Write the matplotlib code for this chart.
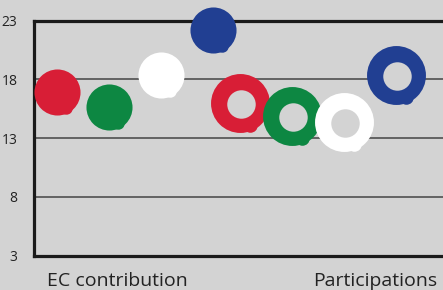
import matplotlib
matplotlib.use("Agg")
import matplotlib.pyplot as plt

# data
categories = ["EC contribution", "Participations"]
series_colors = ["#d81e36", "#0d8742", "#ffffff", "#213f92"]
ec_values = [16.9, 15.6, 18.4, 22.2]
part_values = [16.0, 14.9, 14.4, 18.4]
y_ticks = [3, 8, 13, 18, 23]

bg = "#d3d3d3"
fig = plt.figure(figsize=(4.43, 2.90), dpi=100, facecolor=bg)
ax = fig.add_axes([34/443, 1-255.5/290, 1-34/443, (255.5-20.5)/290])
ax.set_facecolor(bg)
ax.set_xlim(0, 409/52.5)
ax.set_ylim(3, 23)

for y in [8, 13, 18]:
    ax.axhline(y, color="#5a5a5a", lw=1.3, zorder=1)

group_start = [0.44, 3.92]
spacing = 0.99
px_x = 1/52.5
px_y = 20/235

# filled blobs
for i, (v, c) in enumerate(zip(ec_values, series_colors)):
    x = group_start[0] + i*spacing
    ax.scatter([x + 9*px_x], [v - 16*px_y], s=80, color=c, lw=0, zorder=3, clip_on=False)
    ax.scatter([x], [v], s=1100, color=c, lw=0, zorder=3, clip_on=False)

# ring blobs
for i, (v, c) in enumerate(zip(part_values, series_colors)):
    x = group_start[1] + i*spacing
    ax.scatter([x + 10*px_x], [v - 22*px_y], s=110, color=c, lw=0, zorder=3, clip_on=False)
    ax.scatter([x], [v], s=1800, color=c, lw=0, zorder=3, clip_on=False)
    ax.scatter([x + 1*px_x], [v - 1*px_y], s=420, color=bg, lw=0, zorder=4, clip_on=False)

for s in ["left", "bottom", "top"]:
    ax.spines[s].set_linewidth(2.3)
    ax.spines[s].set_color("#1a1a1a")
ax.spines["right"].set_visible(False)

ax.set_yticks(y_ticks)
ax.set_yticklabels([str(t) for t in y_ticks], fontsize=10, family="Open Sans", color="#222222")
ax.tick_params(axis="y", length=0, pad=12)
ax.set_xticks([(117-34)/52.5, (375-34)/52.5])
ax.set_xticklabels(categories, fontsize=14, family="Open Sans", color="#222222")
ax.tick_params(axis="x", length=0, pad=12)

fig.savefig("out.png", dpi=100, facecolor=bg)
